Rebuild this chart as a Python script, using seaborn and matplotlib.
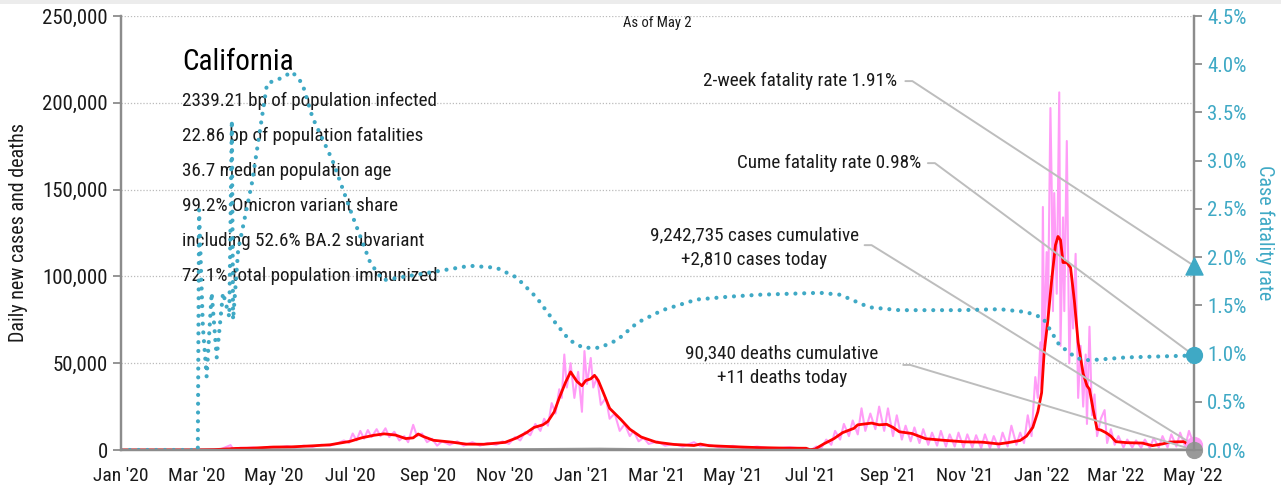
import matplotlib
matplotlib.use("Agg")
import matplotlib.pyplot as plt
import matplotlib.dates as mdates
from matplotlib import font_manager
from matplotlib.patches import Rectangle
import seaborn as sns
import pandas as pd

# ---- данные (тыс. случаев, %) ----
pink_dates = ["2020-01-01", "2020-02-25", "2020-03-10", "2020-03-20", "2020-03-28", "2020-03-30", "2020-04-05",
              "2020-04-10", "2020-04-15", "2020-04-20", "2020-04-28", "2020-05-05", "2020-05-12", "2020-05-18",
              "2020-05-25", "2020-06-01", "2020-06-08", "2020-06-15", "2020-06-22", "2020-06-26", "2020-06-30",
              "2020-07-03", "2020-07-06", "2020-07-09", "2020-07-12", "2020-07-15", "2020-07-18", "2020-07-22",
              "2020-07-25", "2020-07-29", "2020-08-01", "2020-08-05", "2020-08-09", "2020-08-13", "2020-08-16",
              "2020-08-20", "2020-08-23", "2020-08-27", "2020-08-31", "2020-09-04", "2020-09-08", "2020-09-12",
              "2020-09-18", "2020-09-24", "2020-09-29", "2020-10-06", "2020-10-12", "2020-10-18", "2020-10-25",
              "2020-10-30", "2020-11-04", "2020-11-09", "2020-11-13", "2020-11-17", "2020-11-21", "2020-11-25",
              "2020-11-29", "2020-12-02", "2020-12-05", "2020-12-08", "2020-12-11", "2020-12-14", "2020-12-16",
              "2020-12-18", "2020-12-20", "2020-12-23", "2020-12-26", "2020-12-29", "2021-01-01", "2021-01-03",
              "2021-01-05", "2021-01-08", "2021-01-10", "2021-01-13", "2021-01-16", "2021-01-20", "2021-01-23",
              "2021-01-27", "2021-01-31", "2021-02-04", "2021-02-08", "2021-02-11", "2021-02-15", "2021-02-19",
              "2021-02-23", "2021-03-02", "2021-03-08", "2021-03-15", "2021-03-22", "2021-03-31", "2021-04-05",
              "2021-04-12", "2021-04-20", "2021-05-01", "2021-05-10", "2021-05-20", "2021-06-01", "2021-06-15",
              "2021-06-28", "2021-07-02", "2021-07-06", "2021-07-10", "2021-07-14", "2021-07-18", "2021-07-21",
              "2021-07-25", "2021-07-28", "2021-08-01", "2021-08-04", "2021-08-08", "2021-08-11", "2021-08-14",
              "2021-08-18", "2021-08-22", "2021-08-25", "2021-08-29", "2021-09-01", "2021-09-05", "2021-09-08",
              "2021-09-12", "2021-09-15", "2021-09-19", "2021-09-22", "2021-09-26", "2021-09-29", "2021-10-03",
              "2021-10-06", "2021-10-10", "2021-10-13", "2021-10-17", "2021-10-20", "2021-10-24", "2021-10-27",
              "2021-10-31", "2021-11-03", "2021-11-07", "2021-11-10", "2021-11-14", "2021-11-17", "2021-11-21",
              "2021-11-24", "2021-11-28", "2021-12-01", "2021-12-05", "2021-12-08", "2021-12-12", "2021-12-15",
              "2021-12-18", "2021-12-21", "2021-12-24", "2021-12-27", "2021-12-29", "2021-12-31", "2022-01-01",
              "2022-01-02", "2022-01-03", "2022-01-05", "2022-01-06", "2022-01-08", "2022-01-09", "2022-01-10",
              "2022-01-11", "2022-01-13", "2022-01-15", "2022-01-16", "2022-01-18", "2022-01-19", "2022-01-21",
              "2022-01-23", "2022-01-25", "2022-01-26", "2022-01-28", "2022-01-30", "2022-02-01", "2022-02-03",
              "2022-02-05", "2022-02-06", "2022-02-08", "2022-02-10", "2022-02-12", "2022-02-14", "2022-02-17",
              "2022-02-20", "2022-02-22", "2022-02-25", "2022-02-28", "2022-03-03", "2022-03-07", "2022-03-10",
              "2022-03-14", "2022-03-17", "2022-03-21", "2022-03-24", "2022-03-28", "2022-03-31", "2022-04-04",
              "2022-04-07", "2022-04-11", "2022-04-14", "2022-04-18", "2022-04-21", "2022-04-25", "2022-04-28",
              "2022-05-02"]
pink_vals = [0, 0, 0.1, 0.4, 2.8, 0.6, 1.3,
             1.2, 1.5, 0.9, 1.8, 1.5, 2.2, 1.4,
             2.5, 1.8, 3.0, 2.5, 4.2, 5.5, 4.0,
             9.5, 5.5, 11.0, 6.5, 11.5, 7.5, 12.0,
             8.0, 12.5, 7.5, 10.5, 5.5, 8.0, 4.5,
             14.5, 8.0, 9.5, 4.5, 6.5, 2.5, 5.0,
             3.0, 5.0, 2.5, 4.5, 2.5, 4.0, 3.0,
             5.0, 3.5, 7.5, 5.5, 10.5, 8.5, 15.0,
             11.0, 18.0, 14.0, 27.0, 21.0, 35.0, 30.0,
             55.0, 36.0, 50.0, 30.0, 45.0, 22.0, 57.0,
             38.0, 53.0, 36.0, 42.0, 26.0, 30.0, 18.0,
             21.0, 11.0, 15.0, 8.0, 11.0, 5.0, 7.0,
             3.5, 5.0, 2.5, 3.5, 2.0, 4.5, 2.2,
             3.0, 1.5, 2.4, 1.0, 2.0, 0.8, 1.6,
             0.6, 0.0, 2.0, 1.0, 6.0, 3.0, 11.0,
             6.0, 15.0, 8.0, 17.0, 9.0, 24.0, 11.0,
             21.0, 12.0, 25.0, 11.0, 24.0, 8.0, 20.0,
             6.0, 14.0, 5.0, 13.0, 4.0, 12.0, 3.0,
             10.0, 2.5, 11.0, 2.0, 9.0, 2.0, 10.0,
             1.5, 9.0, 1.5, 8.5, 1.0, 9.0, 1.0,
             8.0, 1.0, 10.0, 2.0, 14.0, 3.0, 10.0,
             4.0, 20.0, 8.0, 42.0, 30.0, 62.0, 35.0,
             140.0, 60.0, 114.0, 75.0, 197.0, 151.0, 80.0,
             148.0, 90.0, 206.0, 60.0, 134.0, 80.0, 178.0,
             50.0, 100.0, 70.0, 113.0, 30.0, 60.0, 25.0,
             55.0, 15.0, 71.0, 20.0, 32.0, 8.0, 18.0,
             23.0, 4.0, 12.0, 3.0, 8.0, 1.5, 6.0,
             1.5, 5.5, 1.2, 6.0, 1.0, 7.0, 1.5,
             8.0, 1.5, 9.0, 2.0, 10.0, 2.0, 11.0,
             2.81]

avg_dates = ["2020-01-01", "2020-03-01", "2020-03-15", "2020-04-01", "2020-04-15", "2020-05-01", "2020-05-15",
             "2020-06-01", "2020-06-15", "2020-07-01", "2020-07-10", "2020-07-20", "2020-07-28", "2020-08-06",
             "2020-08-14", "2020-08-20", "2020-08-24", "2020-08-28", "2020-09-05", "2020-09-20", "2020-10-01",
             "2020-10-15", "2020-11-01", "2020-11-10", "2020-11-18", "2020-11-24", "2020-12-01", "2020-12-05",
             "2020-12-10", "2020-12-14", "2020-12-19", "2020-12-23", "2020-12-28", "2021-01-01", "2021-01-04",
             "2021-01-08", "2021-01-11", "2021-01-14", "2021-01-18", "2021-01-23", "2021-02-01", "2021-02-08",
             "2021-02-17", "2021-03-01", "2021-03-15", "2021-03-31", "2021-04-05", "2021-04-12", "2021-05-01",
             "2021-05-20", "2021-06-10", "2021-06-28", "2021-07-01", "2021-07-05", "2021-07-12", "2021-07-20",
             "2021-07-27", "2021-08-05", "2021-08-08", "2021-08-19", "2021-08-25", "2021-08-31", "2021-09-05",
             "2021-09-10", "2021-09-20", "2021-10-01", "2021-10-15", "2021-11-01", "2021-11-15", "2021-11-28",
             "2021-12-05", "2021-12-15", "2021-12-20", "2021-12-25", "2021-12-29", "2022-01-01", "2022-01-03",
             "2022-01-06", "2022-01-09", "2022-01-12", "2022-01-14", "2022-01-16", "2022-01-18", "2022-01-21",
             "2022-01-24", "2022-01-27", "2022-01-30", "2022-02-03", "2022-02-06", "2022-02-08", "2022-02-11",
             "2022-02-14", "2022-02-17", "2022-02-21", "2022-02-25", "2022-03-01", "2022-03-10", "2022-03-22",
             "2022-03-30", "2022-04-07", "2022-04-13", "2022-04-24", "2022-04-28", "2022-05-02"]
avg_vals = [0, 0.05, 0.2, 0.9, 1.1, 1.7, 1.8,
            2.4, 3.0, 5.0, 7.0, 8.5, 9.3, 8.6,
            6.6, 7.0, 9.2, 7.8, 5.6, 4.5, 3.4,
            3.3, 4.4, 6.9, 10.0, 13.0, 14.5, 16.5,
            22.0, 30.0, 39.0, 45.0, 39.5, 37.0, 40.0,
            41.0, 43.0, 40.0, 33.0, 24.0, 17.5, 12.0,
            7.5, 4.5, 3.2, 2.6, 3.4, 2.5, 1.9,
            1.4, 1.1, 1.0, 0.2, 0.5, 3.5, 6.5,
            10.0, 12.5, 14.5, 15.5, 14.5, 14.8, 13.0,
            10.5, 9.5, 6.5, 5.6, 4.7, 4.5, 3.5,
            4.2, 5.5, 8.0, 13.0, 22.0, 33.0, 56.0,
            75.0, 98.0, 118.0, 123.0, 121.0, 108.0, 108.0,
            105.0, 86.0, 62.0, 44.0, 37.0, 35.0, 23.0,
            12.0, 11.5, 10.0, 8.0, 4.8, 4.2, 4.0,
            2.5, 3.5, 4.6, 4.8, 3.0, 2.0]

death_dates = ["2020-01-01", "2020-03-01", "2020-04-15", "2020-07-30", "2020-10-01", "2021-01-15", "2021-03-01",
               "2021-06-01", "2021-09-01", "2021-12-01", "2022-02-01", "2022-05-02"]
death_vals = [0, 0, 80, 130, 80, 550, 200, 30, 100, 50, 180, 11]

rate_dates = ["2020-01-01", "2020-03-02", "2020-03-03", "2020-03-06", "2020-03-09", "2020-03-13", "2020-03-17",
              "2020-03-22", "2020-03-27", "2020-03-29", "2020-03-30", "2020-04-03", "2020-04-14", "2020-04-26",
              "2020-05-06", "2020-05-16", "2020-05-24", "2020-06-01", "2020-06-17", "2020-07-03", "2020-07-17",
              "2020-07-27", "2020-09-02", "2020-10-04", "2020-10-25", "2020-11-10", "2020-11-26", "2020-12-09",
              "2020-12-22", "2021-01-02", "2021-01-15", "2021-01-29", "2021-02-14", "2021-03-06", "2021-04-02",
              "2021-04-28", "2021-05-22", "2021-07-09", "2021-07-25", "2021-08-17", "2021-09-10", "2021-10-28",
              "2021-11-29", "2021-12-20", "2022-01-02", "2022-01-15", "2022-01-29", "2022-02-08", "2022-03-09",
              "2022-05-02"]
rate_vals = [0, 0, 2.49, 1.28, 0.76, 1.63, 0.96,
             1.63, 1.38, 3.42, 1.35, 2.07, 2.77, 3.80,
             3.85, 3.92, 3.80, 3.45, 3.00, 2.42, 1.94,
             1.76, 1.84, 1.91, 1.89, 1.79, 1.58, 1.35,
             1.14, 1.06, 1.06, 1.14, 1.32, 1.45, 1.56,
             1.59, 1.61, 1.63, 1.61, 1.48, 1.45, 1.45,
             1.46, 1.43, 1.37, 1.09, 0.95, 0.93, 0.96,
             0.98]
two_week_rate = 1.91

x_ticks_fmt = "%b '%y"
stats_lines = ["2339.21 bp of population infected", "22.86 bp of population fatalities",
               "36.7 median population age", "99.2% Omicron variant share",
               "including 52.6% BA.2 subvariant", "72.1% total population immunized"]

# ---- шрифт: ищем узкий, иначе Roboto с меньшим кеглем ----
sns.set_style("white")
fonts = font_manager.fontManager.ttflist
names = {f.name for f in fonts}
family, stretch, k = "Roboto", "normal", 0.86
for cand in ["Liberation Sans Narrow", "Roboto Condensed", "Open Sans Condensed", "Noto Sans Condensed"]:
    if cand in names:
        family, k = cand, 1.0
        break
else:
    for f in fonts:
        if f.name in ("DejaVu Sans", "Noto Sans", "Open Sans") and "condensed" in str(f.stretch).lower():
            family, stretch, k = f.name, "condensed", 1.0
            break
if family == "Roboto" and "Roboto" not in names:
    family = "Liberation Sans"
plt.rcParams["font.family"] = [family, "DejaVu Sans"]
plt.rcParams["font.stretch"] = stretch

pink = pd.DataFrame({"date": pd.to_datetime(pink_dates), "v": [v * 1000 for v in pink_vals]})
avg = pd.DataFrame({"date": pd.to_datetime(avg_dates), "v": [v * 1000 for v in avg_vals]})
deaths = pd.DataFrame({"date": pd.to_datetime(death_dates), "v": death_vals})
rate = pd.DataFrame({"date": pd.to_datetime(rate_dates), "v": rate_vals})

PINK = "#ff9cf7"
RED = "#ff0000"
TEAL = "#3fa9c5"
GRAY = "#999999"
TXT = "#1a1a1a"
LINE = "#bdbdbd"
fs = 13.8 * k
tick_fs = 15 * k

fig = plt.figure(figsize=(12.81, 4.91), dpi=100)
fig.add_artist(Rectangle((0, 1 - 4 / 491), 1, 4 / 491, transform=fig.transFigure, color="#ececec", lw=0))
ax = fig.add_axes([121 / 1281, 41 / 491, 1073 / 1281, 434 / 491])
ax2 = ax.twinx()

sns.lineplot(data=pink, x="date", y="v", ax=ax, color=PINK, lw=1.5)
sns.lineplot(data=deaths, x="date", y="v", ax=ax, color=GRAY, lw=2)
sns.lineplot(data=avg, x="date", y="v", ax=ax, color=RED, lw=2)
sns.lineplot(data=rate, x="date", y="v", ax=ax2, color=TEAL, lw=3,
             linestyle=(0, (0.01, 2.1)), dash_capstyle="round")

end = rate["date"].iloc[-1]
ax.scatter([pink["date"].iloc[-1]], [pink["v"].iloc[-1]], s=130, color=PINK, zorder=5, clip_on=False)
ax.scatter([deaths["date"].iloc[-1]], [deaths["v"].iloc[-1]], s=130, color=GRAY, zorder=6, clip_on=False)
ax2.scatter([end], [rate["v"].iloc[-1]], s=130, color=TEAL, zorder=5, clip_on=False)
ax2.scatter([end], [two_week_rate], s=150, marker="^", color=TEAL, zorder=5, clip_on=False)

ax.set_xlim(pd.Timestamp("2020-01-01"), pd.Timestamp("2022-05-02"))
ax.set_ylim(0, 250000)
ax2.set_ylim(0, 4.5)
ax.xaxis.set_major_locator(mdates.MonthLocator(bymonth=[1, 3, 5, 7, 9, 11]))
ax.xaxis.set_major_formatter(mdates.DateFormatter(x_ticks_fmt))
ax.set_yticks(range(0, 250001, 50000))
ax.set_yticklabels([f"{v:,}" for v in range(0, 250001, 50000)])
ax2.set_yticks([i * 0.5 for i in range(10)])
ax2.set_yticklabels([f"{i * 0.5:.1f}%" for i in range(10)])

ax.set_xlabel("")
ax.set_ylabel("Daily new cases and deaths", fontsize=14.5 * k, color=TXT, labelpad=10)
ax2.set_xlabel("")
ax2.set_ylabel("Case fatality rate", fontsize=14.5 * k, color=TEAL, rotation=270, labelpad=20)

ax.grid(axis="y", color="#bbbbbb", linestyle=(0, (1, 1.5)), lw=0.9)
ax.set_axisbelow(True)
for a in (ax, ax2):
    a.spines["top"].set_visible(False)
    for s in ("left", "right", "bottom"):
        a.spines[s].set_color("#8c8c8c")
        a.spines[s].set_linewidth(1.6)
ax.tick_params(axis="both", colors="#8c8c8c", labelcolor=TXT, labelsize=tick_fs, length=6, width=1.3)
ax.tick_params(axis="x", pad=6, labelsize=14 * k)
ax2.tick_params(axis="y", colors="#8c8c8c", labelcolor=TEAL, labelsize=tick_fs, length=6, width=1.3)

# ---- тексты ----
ax.text(0.5, 0.985, "As of May 2", transform=ax.transAxes, ha="center", va="center", fontsize=10.5 * k, color=TXT)
ax.text(0.057, 0.894, "California", transform=ax.transAxes, ha="left", va="center", fontsize=21 * k,
        color="black")
for i, line in enumerate(stats_lines):
    ax.text(0.057, 0.804 - i * 0.0805, line, transform=ax.transAxes, ha="left", va="center",
            fontsize=fs, color=TXT)

arrow = dict(arrowstyle="-", color=LINE, lw=1.4, shrinkA=0, shrinkB=0,
             connectionstyle="arc,angleA=0,armA=7,angleB=0,armB=0,rad=0")

ax2.text(0.723, 0.850, "2-week fatality rate 1.91%", transform=ax.transAxes, ha="right", va="center",
         fontsize=fs, color=TXT)
ax2.annotate("", xy=(end, two_week_rate), xytext=(0.731, 0.850), textcoords="axes fraction", arrowprops=arrow)

ax2.text(0.7456, 0.661, "Cume fatality rate 0.98%", transform=ax.transAxes, ha="right", va="center",
         fontsize=fs, color=TXT)
ax2.annotate("", xy=(end, rate["v"].iloc[-1]), xytext=(0.752, 0.661), textcoords="axes fraction",
             arrowprops=arrow)

ax2.text(0.590, 0.495, "9,242,735 cases cumulative", transform=ax.transAxes, ha="center", va="center",
         fontsize=fs, color=TXT)
ax2.text(0.590, 0.438, "+2,810 cases today", transform=ax.transAxes, ha="center", va="center",
         fontsize=fs, color=TXT)
ax.annotate("", xy=(pink["date"].iloc[-1], pink["v"].iloc[-1]), xytext=(0.693, 0.472),
            textcoords="axes fraction", arrowprops=arrow)

ax2.text(0.616, 0.2235, "90,340 deaths cumulative", transform=ax.transAxes, ha="center", va="center",
         fontsize=fs, color=TXT)
ax2.text(0.616, 0.166, "+11 deaths today", transform=ax.transAxes, ha="center", va="center",
         fontsize=fs, color=TXT)
ax.annotate("", xy=(deaths["date"].iloc[-1], deaths["v"].iloc[-1]), xytext=(0.729, 0.196),
            textcoords="axes fraction", arrowprops=arrow)

fig.savefig("out.png", dpi=100)
